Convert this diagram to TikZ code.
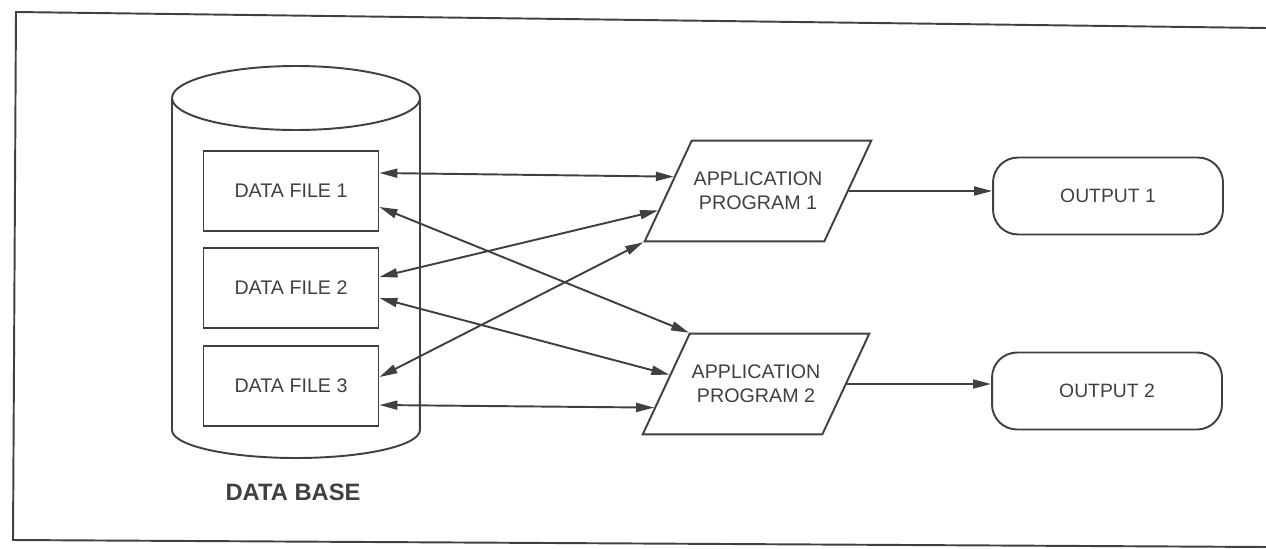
\documentclass[tikz,border=0pt]{standalone}
\usepackage{fontspec}
\setmainfont{Liberation Sans}
\usepackage{tikz}
\usetikzlibrary{
  arrows.meta,
  calc,
  shapes.geometric
}
\colorlet{ink}{black!75}
\tikzset{
  line/.style={draw=ink, line width=1.1pt},
  link/.style={line, {Triangle[length=0.36cm,width=0.18cm]}-{Triangle[length=0.36cm,width=0.18cm]}},
  feed/.style={line, -{Triangle[length=0.36cm,width=0.18cm]}},
  datafile/.style={line, text=ink, minimum width=3.5cm, minimum height=1.6cm,
    font=\fontsize{11.2}{13}\selectfont},
  program/.style={line, text=ink, trapezium, trapezium left angle=65,
    trapezium right angle=115, inner xsep=0.04cm, inner ysep=0.63cm,
    align=center, font=\fontsize{11.2}{13.5}\selectfont},
  result/.style={line, text=ink, rounded corners=0.5cm, minimum width=4.6cm,
    minimum height=1.54cm, font=\fontsize{11}{12}\selectfont}
}

\begin{document}
\begin{tikzpicture}[x=0.02cm, y=-0.02cm]
\useasboundingbox (0,0) rectangle (1266,548);
% page frame, open on the right
\draw[line] (1266,28) -- (16,12) -- (13,540) -- (1266,547);

% data base cylinder
\draw[line] (172,98) -- (172,430) arc[start angle=180, end angle=360,
  x radius=2.48cm, y radius=0.56cm] -- (420,98);
\draw[line] (296,98) ellipse[x radius=2.48cm, y radius=0.64cm];
\node[text=ink, font=\bfseries\fontsize{13.5}{15}\selectfont] (dblabel) at (293,492) {DATA BASE};

\node[datafile] (df1) at (291,191) {DATA FILE 1};
\node[datafile] (df2) at (291,288) {DATA FILE 2};
\node[datafile] (df3) at (291,386) {DATA FILE 3};

\node[program] (ap1) at (758,191) {APPLICATION\\PROGRAM 1};
\node[program] (ap2) at (756,384) {APPLICATION\\PROGRAM 2};

\node[result] (out1) at (1108,196) {OUTPUT 1};
\node[result] (out2) at (1107,391) {OUTPUT 2};

% files <-> programs
\draw[link] ([yshift=0.36cm]df1.east) -- ($(ap1.top left corner)!0.36!(ap1.bottom left corner)$);
\draw[link] ([yshift=-0.32cm]df1.east) -- (ap2.top left corner);
\draw[link] ([yshift=0.22cm]df2.east) -- ($(ap1.top left corner)!0.69!(ap1.bottom left corner)$);
\draw[link] ([yshift=-0.2cm]df2.east) -- ($(ap2.top left corner)!0.41!(ap2.bottom left corner)$);
\draw[link] ([yshift=0.18cm]df3.east) -- (ap1.bottom left corner);
\draw[link] ([yshift=-0.38cm]df3.east) -- ($(ap2.top left corner)!0.73!(ap2.bottom left corner)$);

% programs -> outputs
\draw[feed] (ap1.right side) -- (ap1.right side -| out1.west);
\draw[feed] (ap2.right side) -- (ap2.right side -| out2.west);
\end{tikzpicture}
\end{document}
